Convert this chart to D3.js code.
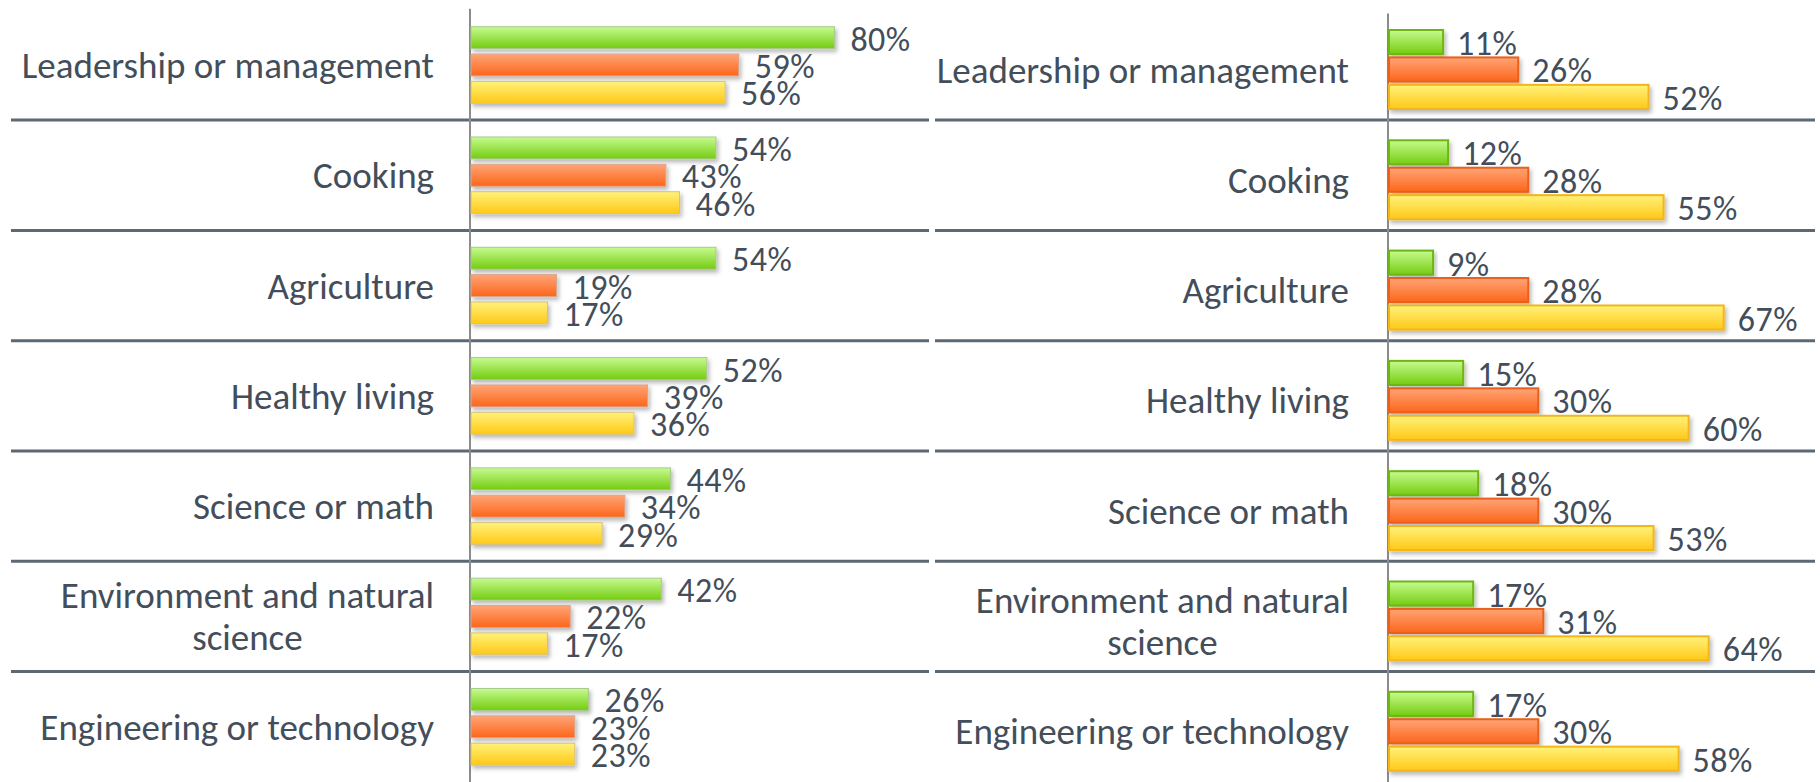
<!DOCTYPE html>
<html>
<head>
<meta charset="utf-8">
<script src="https://cdn.jsdelivr.net/npm/d3@7"></script>
<style>
  html, body { margin: 0; padding: 0; background: #ffffff; }
  svg { display: block; }
  text { font-family: Carlito, Calibri, Lato, sans-serif; fill: #434e5a; }
</style>
</head>
<body>
<svg id="chart" width="1820" height="782"></svg>
<script>
// ---------- data ----------
const categories = [
  "Leadership or management",
  "Cooking",
  "Agriculture",
  "Healthy living",
  "Science or math",
  "Environment and natural science",
  "Engineering or technology"
];
const categoryLines = [
  ["Leadership or management"],
  ["Cooking"],
  ["Agriculture"],
  ["Healthy living"],
  ["Science or math"],
  ["Environment and natural", "science"],
  ["Engineering or technology"]
];
const seriesNames = ["Series 1", "Series 2", "Series 3"];

const leftSeries1 = [80, 54, 54, 52, 44, 42, 26];
const leftSeries2 = [59, 43, 19, 39, 34, 22, 23];
const leftSeries3 = [56, 46, 17, 36, 29, 17, 23];

const rightSeries1 = [11, 12, 9, 15, 18, 17, 17];
const rightSeries2 = [26, 28, 28, 30, 30, 31, 30];
const rightSeries3 = [52, 55, 67, 60, 53, 64, 58];

// ---------- setup ----------
const svg = d3.select("#chart");
const defs = svg.append("defs");

const palette = [
  {top: "#c6fb8f", bottom: "#74cc10", edgeL: "#a9c98e", edgeR: "#6fb514"},
  {top: "#ffa476", bottom: "#fc661a", edgeL: "#d9a58c", edgeR: "#e8611b"},
  {top: "#fff27a", bottom: "#ffc817", edgeL: "#d6c27e", edgeR: "#f3b51c"}
];
palette.forEach((p, i) => {
  const g = defs.append("linearGradient").attr("id", "grad" + i)
    .attr("x1", 0).attr("y1", 0).attr("x2", 0).attr("y2", 1);
  g.append("stop").attr("offset", "0%").attr("stop-color", p.top);
  g.append("stop").attr("offset", "100%").attr("stop-color", p.bottom);
});
const f = defs.append("filter").attr("id", "shadow")
  .attr("x", "-5%").attr("y", "-30%").attr("width", "115%").attr("height", "180%");
f.append("feDropShadow").attr("dx", 2).attr("dy", 3).attr("stdDeviation", 2)
  .attr("flood-color", "#000").attr("flood-opacity", 0.28);

// shared row-separator scale
const sepScale = d3.scaleBand().domain(categories).range([9.8, 781.9]);

function drawPanel(cfg) {
  const g = svg.append("g");
  const x = d3.scaleLinear().domain(cfg.xDomain).range(cfg.xRange);
  const y = d3.scaleBand().domain(categories).range(cfg.yRange);
  const inner = d3.scaleBand().domain(seriesNames)
    .range([cfg.groupTop, cfg.groupBottom]).paddingInner(cfg.innerPad);

  const rows = categories.map((c, i) => ({
    cat: c,
    lines: categoryLines[i],
    vals: cfg.series.map(s => s[i])
  }));

  // separators
  g.selectAll("line.sep").data(categories.slice(1)).join("line")
    .attr("class", "sep")
    .attr("x1", cfg.sepX[0]).attr("x2", cfg.sepX[1])
    .attr("y1", d => sepScale(d)).attr("y2", d => sepScale(d))
    .attr("stroke", "#5c6874").attr("stroke-width", 3);

  // axis line
  const axis = d3.axisLeft(y).tickSize(0).tickFormat("");
  const ax = g.append("g").attr("transform", `translate(${x(0)},0)`).call(axis);
  ax.select(".domain").attr("stroke", "#8c8c8c").attr("stroke-width", 2)
    .attr("d", `M0,${cfg.yRange[0] - 1}V782`);

  // bars
  const groups = g.selectAll("g.row").data(rows).join("g")
    .attr("class", "row")
    .attr("transform", d => `translate(0,${y(d.cat)})`);

  groups.selectAll("rect").data(d => d.vals.map((v, k) => ({v, k}))).join("rect")
    .attr("x", x(0) + 1)
    .attr("y", d => inner(seriesNames[d.k]))
    .attr("width", d => x(d.v) - x(0) - 1)
    .attr("height", inner.bandwidth())
    .attr("fill", d => `url(#grad${d.k})`)
    .attr("stroke", d => cfg.strong ? palette[d.k].edgeR : palette[d.k].edgeL)
    .attr("stroke-width", cfg.strong ? 2 : 1)
    .attr("filter", "url(#shadow)");

  groups.selectAll("text.val").data(d => d.vals.map((v, k) => ({v, k}))).join("text")
    .attr("class", "val")
    .attr("x", d => x(d.v) + cfg.labelGap)
    .attr("y", d => inner(seriesNames[d.k]) + inner.bandwidth() / 2 + cfg.valOffset)
    .attr("font-size", cfg.valSize)
    .attr("letter-spacing", 0.5)
    .text(d => d.v + "%");

  // category labels
  const catG = groups.append("text")
    .attr("class", "cat")
    .attr("font-size", cfg.catSize)
    .attr("text-anchor", "middle");
  catG.each(function(d) {
    const t = d3.select(this);
    const n = d.lines.length;
    const spans = d.lines.map((ln, j) => t.append("tspan")
      .attr("y", y.bandwidth() / 2 + cfg.catOffset + (j - (n - 1) / 2) * cfg.lineH)
      .text(ln));
    let maxW = 0;
    spans.forEach(s => { maxW = Math.max(maxW, s.node().getComputedTextLength()); });
    spans.forEach(s => s.attr("x", x(0) - cfg.catGap - maxW / 2));
  });
}

drawPanel({
  series: [leftSeries1, leftSeries2, leftSeries3],
  xDomain: [0, 100], xRange: [470, 925.5],
  yRange: [9.8, 781.9],
  groupTop: 16.9, groupBottom: 93.5, innerPad: 0.2,
  sepX: [11, 929],
  strong: false,
  labelGap: 16, valOffset: 13, valSize: 34,
  catSize: 37, catOffset: 13, lineH: 42, catGap: 36
});

drawPanel({
  series: [rightSeries1, rightSeries2, rightSeries3],
  xDomain: [0, 85], xRange: [1388, 1813.9],
  yRange: [14.4, 786.5],
  groupTop: 15.6, groupBottom: 94.6, innerPad: 0.12,
  sepX: [935, 1815],
  strong: true,
  labelGap: 14, valOffset: 13, valSize: 34,
  catSize: 37, catOffset: 13, lineH: 42, catGap: 39
});
</script>
</body>
</html>
